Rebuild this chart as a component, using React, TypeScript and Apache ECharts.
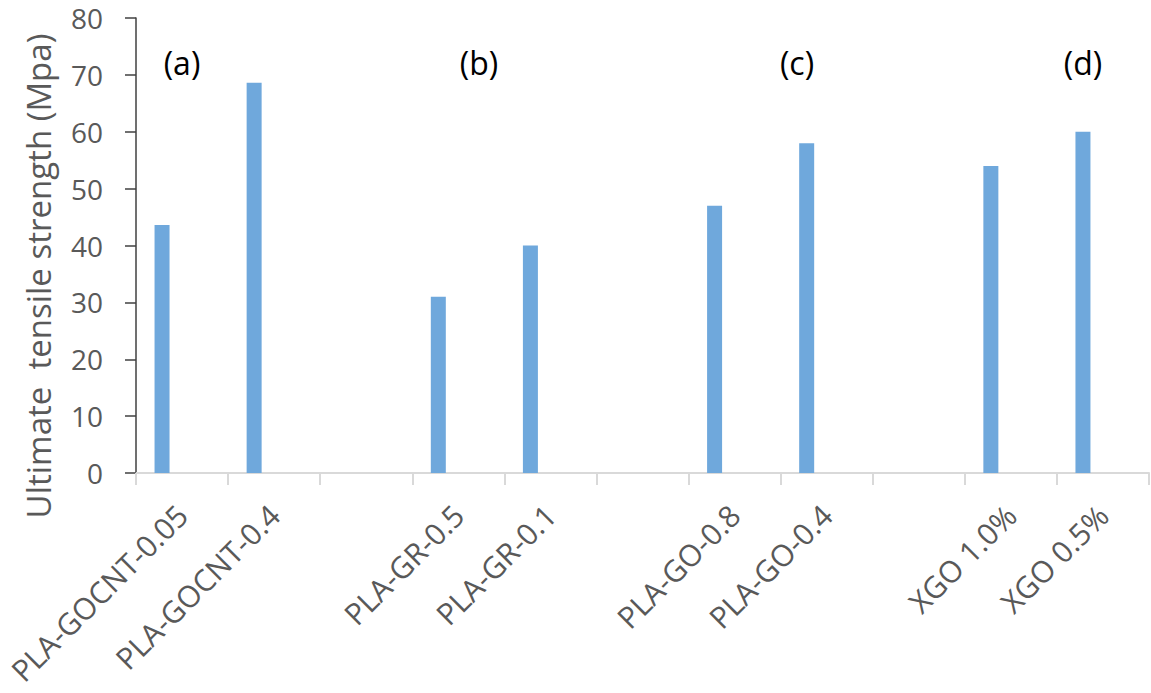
import React, { useEffect, useRef } from "react";
import * as echarts from "echarts";

const categories = [
  "PLA-GOCNT-0.05",
  "PLA-GOCNT-0.4",
  "",
  "PLA-GR-0.5",
  "PLA-GR-0.1",
  "",
  "PLA-GO-0.8",
  "PLA-GO-0.4",
  "",
  "XGO 1.0%",
  "XGO 0.5%",
];
const strengthValues = [43.6, 68.6, null, 31, 40, null, 47, 58, null, 54, 60];
const emptyValues = [null, null, null, null, null, null, null, null, null, null, null];
const yTicks = { min: 0, max: 80, interval: 10 };
const annotations = [
  { text: "(a)", x: 182 },
  { text: "(b)", x: 479 },
  { text: "(c)", x: 797 },
  { text: "(d)", x: 1083 },
];
const yName = "Ultimate  tensile strength (Mpa)";

const FONT = "'Open Sans', 'Noto Sans', sans-serif";

export default function App() {
  const ref = useRef<HTMLDivElement>(null);
  useEffect(() => {
    if (!ref.current) return;
    const chart = echarts.init(ref.current, undefined, { renderer: "svg" });
    chart.setOption({
      animation: false,
      backgroundColor: "#ffffff",
      grid: { left: 136, right: 2, top: 18, bottom: 220, containLabel: false },
      xAxis: {
        type: "category",
        data: categories,
        boundaryGap: true,
        axisLine: { show: true, lineStyle: { color: "#d9d9d9", width: 2 } },
        axisTick: { show: true, length: 12, lineStyle: { color: "#d9d9d9", width: 2 } },
        axisLabel: {
          interval: 0,
          rotate: 45,
          margin: 37,
          color: "#595959",
          fontSize: 30,
          fontFamily: FONT,
        },
      },
      yAxis: {
        type: "value",
        min: yTicks.min,
        max: yTicks.max,
        interval: yTicks.interval,
        axisLine: { show: true, lineStyle: { color: "#404040", width: 1.5 } },
        axisTick: { show: true, length: 11, lineStyle: { color: "#404040", width: 1.5 } },
        splitLine: { show: false },
        axisLabel: {
          margin: 33,
          color: "#595959",
          fontSize: 28,
          fontFamily: FONT,
        },
      },
      series: [
        {
          type: "bar",
          data: strengthValues,
          barWidth: 15,
          itemStyle: { color: "#6fa8dc" },
        },
        {
          type: "bar",
          data: emptyValues,
          barWidth: 15,
          barGap: "166.7%",
          itemStyle: { color: "#6fa8dc" },
        },
      ],
      graphic: [
        {
          type: "text",
          x: 38,
          y: 276,
          rotation: Math.PI / 2,
          style: {
            text: yName,
            fill: "#595959",
            fontSize: 33,
            fontFamily: FONT,
            textAlign: "center",
            textVerticalAlign: "middle",
          },
        },
        ...annotations.map((a) => ({
          type: "text",
          x: a.x,
          y: 62,
          style: {
            text: a.text,
            fill: "#000000",
            fontSize: 32,
            fontFamily: FONT,
            textAlign: "center",
            textVerticalAlign: "middle",
          },
        })),
      ],
    });
    return () => chart.dispose();
  }, []);
  return <div ref={ref} style={{ width: 1151, height: 693, position: "absolute", left: 0, top: 0 }} />;
}
